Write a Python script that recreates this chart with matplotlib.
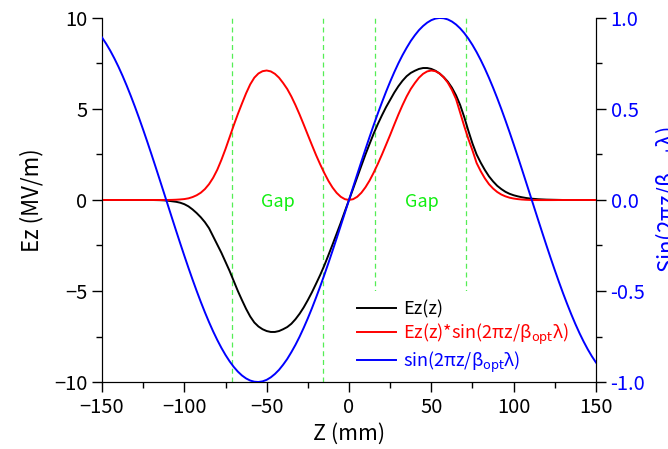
import matplotlib
matplotlib.use("Agg")
from matplotlib import pyplot as plt
from matplotlib.patches import Rectangle
from matplotlib.ticker import MultipleLocator

plt.rcParams['font.family'] = ['Noto Sans CJK JP', 'DejaVu Sans']
plt.rcParams['mathtext.fontset'] = 'dejavusans'

# z positions (mm), 2.5 mm steps
z = [-150, -147.5, -145, -142.5, -140, -137.5, -135, -132.5, -130, -127.5,
     -125, -122.5, -120, -117.5, -115, -112.5, -110, -107.5, -105, -102.5,
     -100, -97.5, -95, -92.5, -90, -87.5, -85, -82.5, -80, -77.5,
     -75, -72.5, -70, -67.5, -65, -62.5, -60, -57.5, -55, -52.5,
     -50, -47.5, -45, -42.5, -40, -37.5, -35, -32.5, -30, -27.5,
     -25, -22.5, -20, -17.5, -15, -12.5, -10, -7.5, -5, -2.5,
     0,
     2.5, 5, 7.5, 10, 12.5, 15, 17.5, 20, 22.5, 25,
     27.5, 30, 32.5, 35, 37.5, 40, 42.5, 45, 47.5, 50,
     52.5, 55, 57.5, 60, 62.5, 65, 67.5, 70, 72.5, 75,
     77.5, 80, 82.5, 85, 87.5, 90, 92.5, 95, 97.5, 100,
     102.5, 105, 107.5, 110, 112.5, 115, 117.5, 120, 122.5, 125,
     127.5, 130, 132.5, 135, 137.5, 140, 142.5, 145, 147.5, 150]

# Ez(z) in MV/m
ez = [0, 0, 0, 0, 0, 0, 0, 0, 0, 0,
      0, 0, 0, -0.005, -0.01, -0.02, -0.04, -0.07, -0.1, -0.15,
      -0.23, -0.35, -0.52, -0.72, -0.95, -1.22, -1.55, -2.0, -2.45, -2.9,
      -3.4, -3.9, -4.45, -5.0, -5.5, -5.98, -6.4, -6.73, -6.95, -7.1,
      -7.2, -7.25, -7.25, -7.2, -7.1, -6.98, -6.8, -6.55, -6.25, -5.9,
      -5.5, -5.07, -4.6, -4.12, -3.6, -3.03, -2.45, -1.85, -1.25, -0.62,
      0,
      0.62, 1.25, 1.88, 2.5, 3.08, 3.65, 4.17, 4.65, 5.1, 5.5,
      5.9, 6.25, 6.55, 6.8, 6.98, 7.1, 7.2, 7.25, 7.25, 7.2,
      7.1, 6.95, 6.75, 6.5, 6.17, 5.75, 5.22, 4.55, 3.8, 3.1,
      2.5, 2.05, 1.65, 1.3, 1.02, 0.78, 0.6, 0.45, 0.34, 0.26,
      0.2, 0.15, 0.11, 0.08, 0.06, 0.04, 0.03, 0.02, 0.015, 0.01,
      0.005, 0, 0, 0, 0, 0, 0, 0, 0, 0]

# Ez(z)*sin(2*pi*z/beta*lambda)
ez_sin = [0, 0, 0, 0, 0, 0, 0, 0, 0, 0,
          0, 0, 0, 0, -0.001, -0.001, 0.001, 0.006, 0.015, 0.03,
          0.05, 0.09, 0.16, 0.26, 0.4, 0.6, 0.87, 1.22, 1.66, 2.2,
          2.8, 3.45, 4.1, 4.72, 5.3, 5.86, 6.35, 6.719, 6.95, 7.075,
          7.114, 7.064, 6.931, 6.719, 6.426, 6.096, 5.685, 5.211, 4.694, 4.142,
          3.575, 3.015, 2.466, 1.958, 1.483, 1.05, 0.684, 0.39, 0.176, 0.044,
          0,
          0.044, 0.176, 0.396, 0.698, 1.067, 1.504, 1.982, 2.492, 3.032, 3.575,
          4.142, 4.694, 5.211, 5.685, 6.096, 6.426, 6.719, 6.931, 7.064, 7.114,
          7.075, 6.95, 6.739, 6.447, 6.049, 5.544, 4.8, 4.05, 3.35, 2.72,
          2.03, 1.58, 1.19, 0.87, 0.63, 0.44, 0.3, 0.2, 0.127, 0.08,
          0.048, 0.025, 0.011, 0.002, -0.003, -0.005, -0.005, -0.005, -0.005, -0.004,
          -0.002, 0, 0, 0, 0, 0, 0, 0, 0, 0]

# sin(2*pi*z/beta*lambda), right axis
sin_v = [0.8929, 0.8588, 0.8205, 0.778, 0.7318, 0.6818, 0.6282, 0.5716, 0.5123, 0.4502,
         0.386, 0.3198, 0.252, 0.183, 0.113, 0.0425, -0.0283, -0.0988, -0.169, -0.2383,
         -0.3063, -0.3729, -0.4375, -0.5, -0.56, -0.6171, -0.6712, -0.722, -0.769, -0.8123,
         -0.8515, -0.8864, -0.9169, -0.9429, -0.9641, -0.9804, -0.9919, -0.9984, -1.0, -0.9965,
         -0.988, -0.9744, -0.956, -0.9332, -0.905, -0.8733, -0.836, -0.7956, -0.751, -0.7021,
         -0.65, -0.5946, -0.536, -0.4753, -0.412, -0.3465, -0.279, -0.2107, -0.141, -0.0707,
         0,
         0.0707, 0.141, 0.2107, 0.279, 0.3465, 0.412, 0.4753, 0.536, 0.5946, 0.65,
         0.7021, 0.751, 0.7956, 0.836, 0.8733, 0.905, 0.9332, 0.956, 0.9744, 0.988,
         0.9965, 1.0, 0.9984, 0.9919, 0.9804, 0.9641, 0.9429, 0.9169, 0.8864, 0.8515,
         0.8123, 0.769, 0.722, 0.6712, 0.6171, 0.56, 0.5, 0.4375, 0.3729, 0.3063,
         0.2383, 0.169, 0.0988, 0.0283, -0.0425, -0.113, -0.183, -0.252, -0.3198, -0.386,
         -0.4502, -0.5123, -0.5716, -0.6282, -0.6818, -0.7318, -0.778, -0.8205, -0.8588, -0.8929]

gap_edges = [-71, -16, 16, 71]
gap_labels = [-43, 44]

fig = plt.figure(figsize=(6.68, 4.49), dpi=100)
ax = fig.add_axes([0.1527, 0.1492, 0.7395, 0.8108])
ax2 = ax.twinx()

for xg in gap_edges:
    ax.axvline(xg, color='#55ee55', lw=0.9, ls=(0, (4, 3)), zorder=1)
for xg in gap_labels:
    ax.text(xg, -0.1, 'Gap', color='#11ee11', fontsize=13, ha='center', va='center')

# white box behind the legend (hides the gap lines there)
ax.add_patch(Rectangle((0.506, 0.0), 0.44, 0.25, transform=ax.transAxes,
                       facecolor='white', edgecolor='none', zorder=2))

l1, = ax.plot(z, ez, color='black', lw=1.4, zorder=3)
l2, = ax.plot(z, ez_sin, color='red', lw=1.4, zorder=3)
l3, = ax2.plot(z, sin_v, color='blue', lw=1.4, zorder=3)

ax.set_xlim(-150, 150)
ax.set_ylim(-10, 10)
ax2.set_ylim(-1, 1)

ax.xaxis.set_major_locator(MultipleLocator(50))
ax.xaxis.set_minor_locator(MultipleLocator(25))
ax.yaxis.set_major_locator(MultipleLocator(5))
ax.yaxis.set_minor_locator(MultipleLocator(2.5))
ax2.yaxis.set_major_locator(MultipleLocator(0.5))
ax2.yaxis.set_minor_locator(MultipleLocator(0.25))
ax2.yaxis.set_major_formatter(plt.FormatStrFormatter('%.1f'))

for a in (ax, ax2):
    a.spines['top'].set_visible(False)
    a.tick_params(which='major', direction='out', length=7, width=1, labelsize=14.5)
    a.tick_params(which='minor', direction='out', length=4, width=1)
ax.tick_params(axis='x', which='both', top=False)
ax2.tick_params(axis='y', colors='black', labelcolor='blue')

ax.set_xlabel('Z (mm)', fontsize=15.5, labelpad=4)
ax.set_ylabel('Ez (MV/m)', fontsize=16, labelpad=8)
ax2.set_ylabel('Sin(2πz/β$_{\\rm opt}$λ)', fontsize=16, color='blue', rotation=90)
ax2.yaxis.set_label_coords(1.115, 0.5)

leg = ax.legend([l1, l2, l3],
                ['Ez(z)', 'Ez(z)*sin(2πz/β$_{\\rm opt}$λ)', 'sin(2πz/β$_{\\rm opt}$λ)'],
                loc='center left', bbox_to_anchor=(0.505, 0.122), borderaxespad=0, fontsize=13,
                frameon=False, handlelength=2.15, handletextpad=0.4, labelspacing=0.15, borderpad=0.3)
for t, c in zip(leg.get_texts(), ['black', 'red', 'blue']):
    t.set_color(c)
leg.set_zorder(5)

fig.savefig('out.png', dpi=100)
